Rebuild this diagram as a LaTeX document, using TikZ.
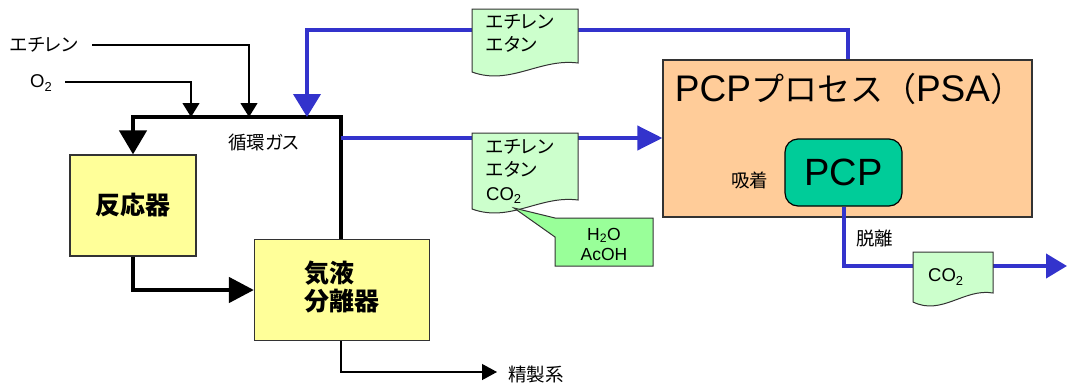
\documentclass[tikz,border=0pt]{standalone}
\usepackage{fontspec}
\setmainfont{Liberation Sans}
\newfontfamily\jp[RawFeature=+palt]{Noto Sans CJK JP}
\newfontfamily\jpfull{Noto Sans CJK JP}
\usetikzlibrary{arrows.meta,calc}
\definecolor{flowblue}{HTML}{3333CC}
\definecolor{docgreen}{HTML}{CCFFCC}
\definecolor{callgreen}{HTML}{99FF99}
\definecolor{boxyellow}{HTML}{FFFF99}
\definecolor{psaorange}{HTML}{FFCC99}
\definecolor{pcpteal}{HTML}{00CC99}
\tikzset{
  unitbox/.style={draw=black!80, line width=1.2pt, fill=boxyellow, inner sep=0pt},
  loopline/.style={line width=4.5pt, black},
  thinline/.style={line width=1.2pt, black},
  blueline/.style={line width=4pt, flowblue},
  docst/.style={draw=black!80, line width=1pt, fill=docgreen},
  small/.style={font=\fontsize{18.5}{23}\selectfont},
  lbl/.style={inner sep=0pt},
}
\newcommand\docshape[4]{%
  \filldraw[docst] (#1,#2) -- (#3,#2) -- (#3,#4-9)
    .. controls ({#3-0.36*(#3-#1)},#4-14) and ({#1+0.36*(#3-#1)},#4+14) .. (#1,#4) -- cycle;}
\begin{document}
\begin{tikzpicture}[x=1pt,y=-1pt]
\useasboundingbox (0,0) rectangle (1067,383);
% boxes
\node[unitbox, minimum width=126pt, minimum height=101pt] (reactor) at (133,205.5)
  {\fontsize{25}{28}\selectfont\jp\bfseries 反応器};
\node[unitbox, minimum width=175pt, minimum height=101pt] (sep) at (342,290)
  {\fontsize{25}{28}\selectfont\jp\bfseries\begin{tabular}{@{}l@{}}気液\\[-1pt]分離器\end{tabular}};
\node[draw=black!80, line width=1.2pt, fill=psaorange, minimum width=369pt, minimum height=157pt, inner sep=0pt] (psa) at (847.5,138.5) {};
\node[lbl, font=\fontsize{37}{40}\selectfont] (psatitle) at (849,89) {PCP{\fontsize{33}{36}\selectfont\jpfull プロセス（}PSA{\fontsize{33}{36}\selectfont\jpfull ）}};
\node[draw=black, line width=1.2pt, fill=pcpteal, rounded corners=13pt, minimum width=117pt, minimum height=67pt, inner sep=0pt] (pcp) at (843.5,172.5)
  {\fontsize{38}{40}\selectfont PCP};
% coordinates
\coordinate (loopTR) at (341,117);
\coordinate (loopTL) at (133,117);
\coordinate (o2in) at (191,117);
\coordinate (ethin) at (249,117);
\coordinate (recin) at (307,117);
\coordinate (loopR) at (341,138);
\coordinate (ethtop) at (848,30);
\coordinate (co2end) at (1067,266);
\coordinate (prodend) at (497,372);
\coordinate (prodcorner) at (341,372);
\coordinate (ethstart) at (92,45);
\coordinate (o2start) at (65,82);
% labels
\node[lbl, small, anchor=west] (ethlbl) at (10,45) {\jp エチレン};
\node[lbl, small, anchor=west] (o2lbl) at (30,83) {O\textsubscript{2}};
\node[lbl, small, anchor=west] (circ) at (228,142) {\jp 循環ガス};
\node[lbl, small, anchor=west] (prod) at (508,374) {\jp 精製系};
\node[lbl, small, anchor=west] (ads) at (731,180) {\jp 吸着};
\node[lbl, small, anchor=west] (des) at (856,238) {\jp 脱離};
% feed lines
\draw[thinline, -{Triangle[length=14pt,width=17pt]}] (ethstart) -- (ethstart -| ethin) -- (ethin);
\draw[thinline, -{Triangle[length=14pt,width=17pt]}] (o2start) -- (o2start -| o2in) -- (o2in);
% main loop
\draw[loopline, line join=miter, -{Triangle[length=24pt,width=27pt]}] (sep.north -| loopTR) -- (loopTR) -- (loopTL) -- (reactor.north);
\draw[loopline, line join=miter, -{Triangle[length=25pt,width=25pt]}] (reactor.south) -- (reactor.south |- sep.west) -- (sep.west);
\draw[thinline, -{Triangle[length=15pt,width=16pt]}] (sep.south -| prodcorner) -- (prodcorner) -- (prodend);
% blue lines
\draw[blueline, -{Triangle[length=23pt,width=27pt]}] (psa.north -| ethtop) -- (ethtop) -- (ethtop -| recin) -- (recin);
\draw[blueline, -{Triangle[length=25pt,width=24pt]}] (loopR) -- (loopR -| psa.west);
\draw[blueline, -{Triangle[length=21pt,width=24pt]}] (pcp.south) -- (pcp.south |- co2end) -- (co2end);
% documents
\docshape{472}{9}{578}{72}
\node[lbl, small, anchor=north west, align=left] (doc1) at (486,14) {\jp エチレン\\\jp エタン};
\docshape{472}{133}{578}{209}
\node[lbl, small, anchor=north west, align=left] (doc2) at (486,139) {\jp エチレン\\\jp エタン\\[1pt]CO\textsubscript{2}};
\docshape{913}{252}{993}{302}
\node[lbl, small, anchor=west] (doc3) at (928,277) {CO\textsubscript{2}};
% callout
\filldraw[draw=black!80, line width=1pt, fill=callgreen] (555,218) -- (653,218) -- (653,266) -- (555,266) -- (555,237) -- (514,208) -- cycle;
\node[lbl, font=\fontsize{17.5}{20}\selectfont, align=center] (call) at (604,244) {H\textsubscript{2}O\\AcOH};
\end{tikzpicture}
\end{document}
